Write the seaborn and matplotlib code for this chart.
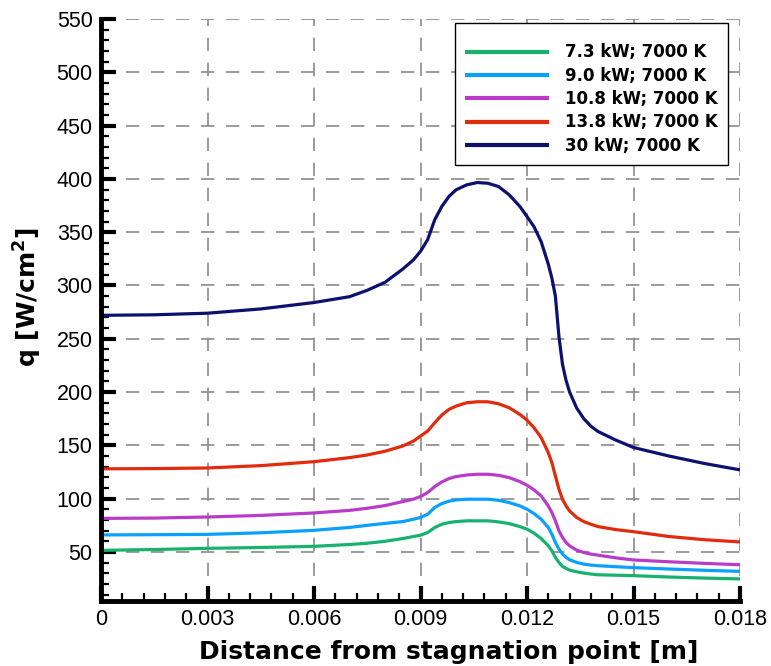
import numpy as np
import pandas as pd
import matplotlib
matplotlib.use("Agg")
import matplotlib.pyplot as plt
from matplotlib.ticker import MultipleLocator, FuncFormatter
import seaborn as sns

# ---- data ----
distance = [0.0, 0.0015, 0.003, 0.0045, 0.006, 0.007, 0.0075, 0.008, 0.0085, 0.0088,
            0.009, 0.0092, 0.0094, 0.0096, 0.0098, 0.0100, 0.0103, 0.0106, 0.0109, 0.0112,
            0.0115, 0.0118, 0.0120, 0.0122, 0.0124, 0.0126, 0.0127, 0.0128, 0.0129, 0.0130,
            0.0131, 0.0132, 0.0134, 0.0136, 0.0138, 0.0140, 0.0145, 0.015, 0.016, 0.017,
            0.018]

q_7_3 = [51.5, 52.3, 53.4, 54.2, 55.3, 57.0, 58.2, 60.0, 62.6, 64.5,
         65.7, 68.2, 72.9, 76.0, 77.6, 78.5, 79.2, 79.2, 79.2, 78.2,
         76.6, 73.8, 71.4, 67.6, 62.6, 55.8, 51.1, 44.9, 40.2, 36.4,
         34.6, 33.0, 31.4, 30.2, 29.3, 28.6, 28.2, 27.8, 26.5, 25.5,
         24.7]
q_9_0 = [66.0, 66.2, 66.5, 68.0, 70.3, 73.0, 75.0, 76.8, 78.5, 80.7,
         82.3, 85.4, 91.7, 95.4, 97.6, 98.8, 99.5, 99.5, 99.5, 98.5,
         96.3, 93.2, 90.1, 86.0, 80.7, 72.9, 66.7, 58.9, 52.7, 48.0,
         44.9, 42.7, 40.2, 38.6, 37.7, 37.1, 36.2, 35.3, 34.0, 32.8,
         31.8]
q_10_8 = [81.5, 81.8, 82.8, 84.3, 86.6, 89.0, 91.0, 93.5, 97.3, 99.5,
          102.0, 105.7, 111.3, 115.7, 118.8, 120.7, 122.2, 122.9, 122.9, 121.9,
          119.7, 116.0, 112.6, 108.2, 102.6, 93.2, 87.0, 79.2, 69.8, 63.6,
          58.9, 55.8, 51.7, 49.5, 48.0, 47.0, 44.5, 42.5, 40.8, 39.3,
          38.0]
q_13_8 = [128.0, 128.2, 128.8, 131.0, 134.7, 138.5, 141.0, 144.5, 149.4, 154.0,
          158.7, 163.4, 171.2, 178.4, 183.7, 186.8, 190.0, 190.9, 190.9, 189.0,
          185.3, 179.0, 173.7, 166.5, 157.2, 143.1, 133.8, 121.3, 108.8, 99.4,
          93.2, 88.5, 82.3, 78.5, 76.0, 73.8, 71.0, 69.0, 64.5, 61.5,
          59.4]
q_30 = [272.0, 272.5, 274.0, 278.0, 284.0, 289.5, 295.5, 303.0, 315.4, 324.0,
        332.0, 342.9, 361.6, 374.1, 383.5, 389.7, 394.4, 396.6, 395.9, 392.8,
        385.0, 374.1, 364.7, 355.0, 341.0, 320.0, 307.0, 290.0, 252.0, 226.0,
        211.0, 200.0, 185.0, 175.0, 168.0, 163.0, 155.0, 148.0, 140.0, 133.0,
        127.0]

series_labels = ["7.3 kW; 7000 K", "9.0 kW; 7000 K", "10.8 kW; 7000 K",
                 "13.8 kW; 7000 K", "30 kW; 7000 K"]
series_values = [q_7_3, q_9_0, q_10_8, q_13_8, q_30]
series_colors = ["#17b26e", "#0aa0ff", "#b93cc8", "#e22a0c", "#0c1170"]

x_ticks = [0.0, 0.003, 0.006, 0.009, 0.012, 0.015, 0.018]
y_ticks = [50, 100, 150, 200, 250, 300, 350, 400, 450, 500, 550]

df = pd.concat([pd.DataFrame({"x": distance, "q": v, "case": lab})
                for lab, v in zip(series_labels, series_values)], ignore_index=True)

# ---- style ----
sns.set_theme(style="ticks")
plt.rcParams["font.family"] = ["Liberation Sans", "DejaVu Sans"]
plt.rcParams["text.color"] = "black"
plt.rcParams["axes.labelcolor"] = "black"
plt.rcParams["mathtext.fontset"] = "custom"
plt.rcParams["mathtext.rm"] = "DejaVu Sans"
plt.rcParams["mathtext.bf"] = "DejaVu Sans:bold"

fig = plt.figure(figsize=(7.71, 6.66), dpi=100)
ax = fig.add_axes([101 / 771, 1 - 601 / 666, 639 / 771, 582 / 666])

sns.lineplot(data=df, x="x", y="q", hue="case", hue_order=series_labels,
             palette=dict(zip(series_labels, series_colors)), sort=False,
             errorbar=None, linewidth=2.3, legend=False, ax=ax, zorder=3)
for ln in ax.get_lines():
    ln.set_solid_joinstyle("round")
    ln.set_solid_capstyle("butt")

ax.set_xlim(0, 0.018)
ax.set_ylim(4, 550)
ax.xaxis.set_minor_locator(MultipleLocator(0.0006))
ax.yaxis.set_minor_locator(MultipleLocator(10))
ax.set_xticks(x_ticks)
ax.set_yticks(y_ticks)
ax.xaxis.set_major_formatter(FuncFormatter(lambda v, p: "0" if abs(v) < 1e-12 else f"{v:.3f}"))

ax.grid(True, which="major", color="#8a8a8a", linestyle=(0, (8, 7)), linewidth=1.2, zorder=1)
ax.set_axisbelow(True)

for s in ["top", "right"]:
    ax.spines[s].set_visible(False)
for s in ["left", "bottom"]:
    ax.spines[s].set_linewidth(3.5)
    ax.spines[s].set_color("black")
    ax.spines[s].set_zorder(4)

ax.tick_params(axis="both", which="major", direction="in", length=11, width=3,
               color="black", labelsize=15.5, labelcolor="black", pad=6)
ax.tick_params(axis="both", which="minor", direction="in", length=6, width=1.6, color="black")

bold = {"family": "DejaVu Sans", "weight": "bold", "size": 18, "color": "black"}
ax.set_xlabel("Distance from stagnation point [m]", fontdict=bold, labelpad=7)
ax.set_ylabel(r"q [W/cm$^{\mathbf{2}}$]", fontdict=bold, labelpad=9)
ax.xaxis.label.set_x((448.5 - 101) / 639)
ax.yaxis.label.set_y((601 - 297) / 582)

handles = ax.get_lines()[:5]
leg = ax.legend(handles, series_labels, loc="upper right",
                bbox_to_anchor=((728 - 101) / 639, (601 - 23) / 582),
                borderaxespad=0, frameon=True, fancybox=False, framealpha=1,
                edgecolor="black", handlelength=5.0, handletextpad=1.0,
                labelspacing=0.32, borderpad=0.6,
                title=" ", title_fontsize=4,
                prop={"weight": "bold", "size": 12, "family": "DejaVu Sans"})
leg.get_frame().set_linewidth(1.0)
for ln in leg.get_lines():
    ln.set_linewidth(3.0)
for t in leg.get_texts():
    t.set_color("black")

fig.savefig("out.png", dpi=100)
